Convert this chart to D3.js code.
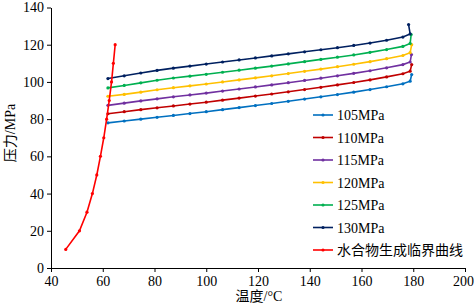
<!DOCTYPE html>
<html>
<head>
<meta charset="utf-8">
<script src="https://cdn.jsdelivr.net/npm/d3@7"></script>
<style>
  body { margin: 0; background: #fff; }
  text { font-family: "Liberation Serif", "Noto Sans CJK SC", serif; }
</style>
</head>
<body>
<svg id="chart"></svg>
<script>
// temperatures along the well (deg C), shared by the six pressure series
var temps = [62, 68.3, 74.7, 81, 87.3, 93.7, 100, 106.3, 112.7, 119, 125.3,
             131.7, 138, 144.3, 150.7, 157, 163.3, 169.7, 176, 178.8];
// last point of each series (the hook at the bottom)
var topTemps = [179.4, 179.4, 179.3, 179.4, 179.2, 178.2];

var seriesNames = ['105MPa', '110MPa', '115MPa', '120MPa', '125MPa', '130MPa'];
var seriesColors = ['#0070C0', '#C00000', '#7030A0', '#FFC000', '#00B050', '#002060'];

var p105 = [78.0, 79.0, 80.0, 81.0, 82.0, 83.0, 84.0, 85.1, 86.2, 87.3, 88.4,
            89.6, 90.8, 92.0, 93.2, 94.5, 95.9, 97.4, 99.0, 100.4, 104.0];
var p110 = [82.9, 84.0, 85.1, 86.1, 87.1, 88.1, 89.1, 90.2, 91.3, 92.4, 93.5,
            94.7, 95.9, 97.1, 98.4, 99.7, 101.1, 102.7, 104.4, 105.8, 109.3];
var p115 = [87.4, 88.6, 89.8, 90.9, 92.0, 93.0, 94.0, 95.1, 96.2, 97.3, 98.4,
            99.6, 100.8, 102.0, 103.3, 104.6, 106.0, 107.6, 109.3, 110.7, 114.7];
var p120 = [92.3, 93.3, 94.5, 95.8, 96.9, 97.9, 98.9, 100.0, 101.1, 102.2, 103.3,
            104.5, 105.7, 106.9, 108.2, 109.5, 110.9, 112.5, 114.2, 115.7, 120.0];
var p125 = [96.8, 98.1, 99.5, 100.9, 102.1, 103.1, 104.1, 105.2, 106.3, 107.4, 108.5,
            109.7, 110.9, 112.1, 113.3, 114.5, 115.9, 117.4, 119.1, 120.7, 125.5];
var p130 = [101.8, 103.3, 104.8, 106.2, 107.4, 108.5, 109.6, 110.7, 111.8, 112.9, 114.0,
            115.1, 116.2, 117.3, 118.4, 119.6, 120.9, 122.4, 124.1, 125.8, 130.8];
var pressures = [p105, p110, p115, p120, p125, p130];

// hydrate formation critical curve
var hydrateName = '水合物生成临界曲线';
var hydrateColor = '#FF0000';
var hydrateT = [45.7, 51.0, 53.9, 56.0, 57.7, 59.1, 60.4, 61.5, 62.5, 63.4, 64.1, 64.8];
var hydrateP = [10, 20, 30, 40, 50, 60, 70, 80, 90, 100, 110, 120];

var xTicks = [40, 60, 80, 100, 120, 140, 160, 180, 200];
var yTicks = [0, 20, 40, 60, 80, 100, 120, 140];

var width = 474, height = 305;
var margin = {left: 51, right: 9, top: 7.5, bottom: 37};

var svg = d3.select('#chart')
    .attr('width', width)
    .attr('height', height);

var x = d3.scaleLinear().domain([40, 200]).range([margin.left, width - margin.right]);
var y = d3.scaleLinear().domain([0, 140]).range([height - margin.bottom, margin.top]);

//axes
var xAxis = svg.append('g')
    .attr('transform', 'translate(0,' + y(0) + ')')
    .call(d3.axisBottom(x).tickValues(xTicks).tickSize(4).tickSizeOuter(0).tickPadding(4));
var yAxis = svg.append('g')
    .attr('transform', 'translate(' + x(40) + ',0)')
    .call(d3.axisLeft(y).tickValues(yTicks).tickSize(4).tickSizeOuter(0).tickPadding(3));

svg.selectAll('.domain, .tick line')
    .attr('stroke', '#000')
    .attr('stroke-width', 1);
svg.selectAll('.tick text')
    .attr('font-size', '14px')
    .attr('fill', '#000')
    .style('font-family', '"Liberation Serif", serif');

//last x label sits at the window edge, nudge it in a bit
xAxis.selectAll('.tick text')
    .filter(function(d) { return d === 200; })
    .attr('dx', -2);

svg.append('text')
    .attr('x', 259)
    .attr('y', 301)
    .attr('text-anchor', 'middle')
    .attr('font-size', '14px')
    .text('温度/°C');

svg.append('text')
    .attr('transform', 'translate(15,' + 133 + ') rotate(-90)')
    .attr('text-anchor', 'middle')
    .attr('font-size', '14px')
    .text('压力/MPa');

var line = d3.line()
    .x(function(d) { return x(d[0]); })
    .y(function(d) { return y(d[1]); });

function drawSeries(points, color) {
    var g = svg.append('g');
    g.append('path')
        .datum(points)
        .attr('d', line)
        .attr('fill', 'none')
        .attr('stroke', color)
        .attr('stroke-width', 1.6);
    g.selectAll('circle')
        .data(points)
        .enter()
        .append('circle')
        .attr('cx', function(d) { return x(d[0]); })
        .attr('cy', function(d) { return y(d[1]); })
        .attr('r', 1.6)
        .attr('fill', color);
}

pressures.forEach(function(vals, i) {
    var ts = temps.concat([topTemps[i]]);
    drawSeries(vals.map(function(v, j) { return [ts[j], v]; }), seriesColors[i]);
});

drawSeries(hydrateT.map(function(t, j) { return [t, hydrateP[j]]; }), hydrateColor);

//legend
var legendItems = seriesNames.map(function(n, i) { return {name: n, color: seriesColors[i]}; })
    .concat([{name: hydrateName, color: hydrateColor}]);

var legend = svg.append('g')
    .selectAll('g')
    .data(legendItems)
    .enter()
    .append('g')
    .attr('transform', function(d, i) { return 'translate(313,' + (115 + i * 22.5) + ')'; });

legend.append('line')
    .attr('x1', 0).attr('x2', 20)
    .attr('stroke', function(d) { return d.color; })
    .attr('stroke-width', 1.6);
legend.append('circle')
    .attr('cx', 10)
    .attr('r', 1.6)
    .attr('fill', function(d) { return d.color; });
legend.append('text')
    .attr('x', 24)
    .attr('y', 5)
    .attr('font-size', '14px')
    .text(function(d) { return d.name; });
</script>
</body>
</html>
